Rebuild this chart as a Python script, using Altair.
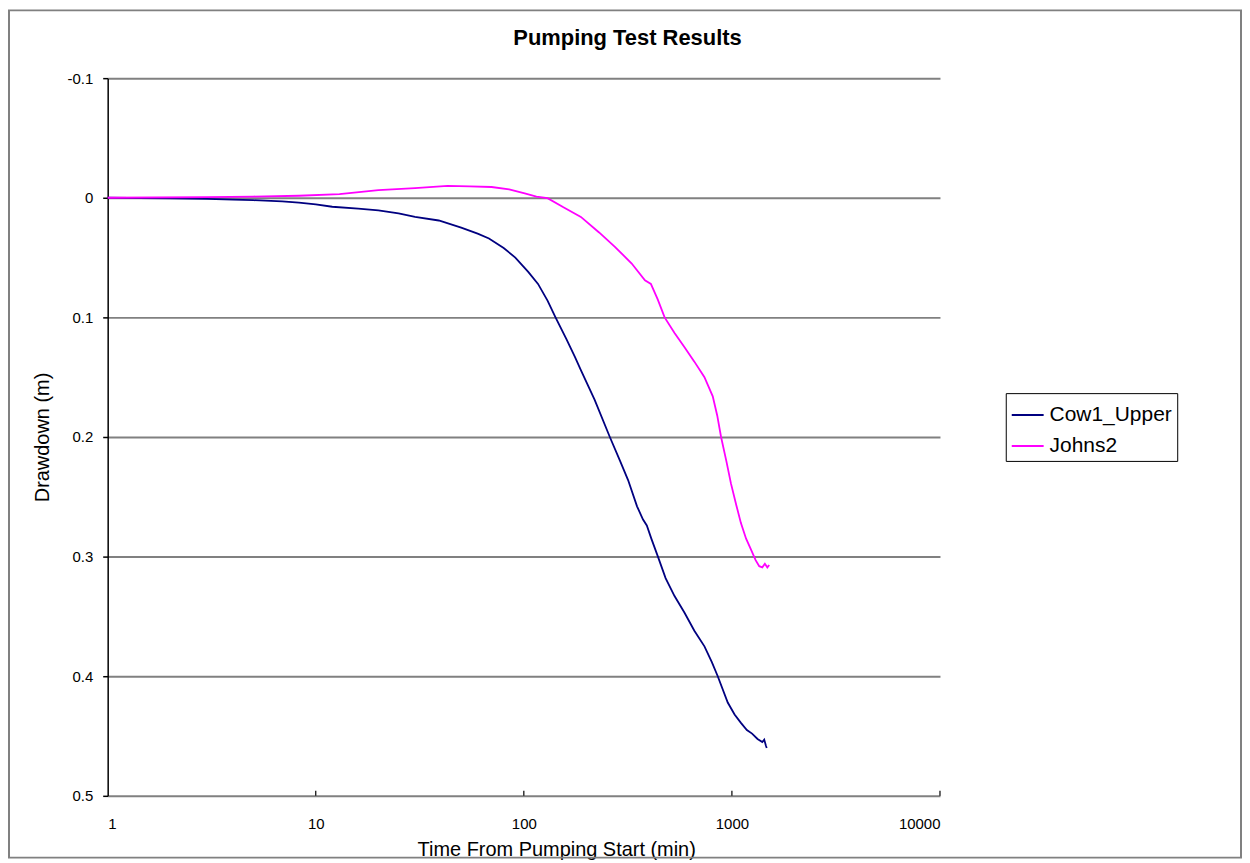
import altair as alt
import pandas as pd

# ---- data ----
series_names = ["Cow1_Upper", "Johns2"]
series_colors = ["#000080", "#ff00ff"]

cow_t = [1, 2, 3, 4, 5, 6.9, 8.3, 10, 12, 16, 20, 25, 30, 39, 50, 60, 68, 80, 91, 105,
         117, 130, 142, 160, 176, 188, 219, 259, 290, 317, 350, 374, 390, 410, 441, 480,
         530, 592, 660, 738, 800, 855, 955, 1030, 1105, 1180, 1250, 1328, 1400, 1430, 1456, 1470]
cow_d = [0.0, 0.0005, 0.001, 0.0015, 0.002, 0.003, 0.004, 0.0055, 0.0075, 0.009, 0.0105, 0.013,
         0.016, 0.019, 0.025, 0.030, 0.034, 0.042, 0.050, 0.062,
         0.072, 0.086, 0.100, 0.118, 0.133, 0.144, 0.169, 0.200, 0.220, 0.236, 0.258, 0.269,
         0.274, 0.285, 0.300, 0.318, 0.333, 0.347, 0.362, 0.375, 0.388, 0.400, 0.422, 0.432,
         0.439, 0.445, 0.448, 0.4525, 0.455, 0.453, 0.458, 0.460]

johns_t = [1, 3, 5, 8.3, 13, 20, 30, 43, 55, 70, 85, 101, 115, 130, 155, 188, 230, 274, 330,
           382, 408, 440, 475, 530, 592, 660, 738, 809, 850, 887, 940, 990, 1050, 1105, 1170,
           1234, 1300, 1353, 1400, 1440, 1480, 1511]
johns_d = [0.0, -0.0005, -0.001, -0.0017, -0.003, -0.0064, -0.008, -0.010, -0.0095, -0.009,
           -0.007, -0.0036, -0.001, 0.0003, 0.008, 0.016, 0.029, 0.041, 0.055,
           0.069, 0.072, 0.085, 0.100, 0.113, 0.125, 0.137, 0.150, 0.166, 0.182, 0.200, 0.220,
           0.239, 0.257, 0.272, 0.285, 0.294, 0.303, 0.308, 0.309, 0.306, 0.309, 0.307]

x_ticks = [1, 10, 100, 1000, 10000]
y_ticks = [-0.1, 0, 0.1, 0.2, 0.3, 0.4, 0.5]

chart_title = "Pumping Test Results"
x_title = "Time From Pumping Start (min)"
y_title = "Drawdown (m)"

FONT = "Liberation Sans"

df = pd.concat([
    pd.DataFrame({"t": cow_t, "d": cow_d, "series": series_names[0]}),
    pd.DataFrame({"t": johns_t, "d": johns_d, "series": series_names[1]}),
], ignore_index=True)

x_scale = alt.Scale(type="log", domain=[1, 10000])
y_scale = alt.Scale(domain=[-0.1, 0.5], reverse=True, nice=False, zero=False)

lines = alt.Chart(df).mark_line(strokeWidth=1.8).encode(
    x=alt.X("t:Q", scale=x_scale, title=x_title,
            axis=alt.Axis(values=x_ticks, format="d", grid=False, domain=False,
                          ticks=False, tickSize=0, labelPadding=21,
                          labelFont=FONT, labelFontSize=15, labelColor="black",
                          titleFont=FONT, titleFontSize=20, titleFontWeight="normal",
                          titleColor="black", titleX=450, titleY=60,
                          titleBaseline="alphabetic", titleAlign="center")),
    y=alt.Y("d:Q", scale=y_scale, title=y_title,
            axis=alt.Axis(values=y_ticks,
                          labelExpr="datum.value == 0 ? '0' : replace(format(datum.value, '.1f'), '\u2212', '-')",
                          grid=True, gridColor="#808080", gridWidth=2,
                          domainColor="black", domainWidth=1.5,
                          tickColor="black", tickSize=5, tickWidth=1.5,
                          labelPadding=10, labelFont=FONT, labelFontSize=15,
                          labelColor="black",
                          titleFont=FONT, titleFontSize=20, titleFontWeight="normal",
                          titleColor="black", titleX=-55, titleY=360, titleAngle=270,
                          titleBaseline="bottom", titleAlign="center")),
    color=alt.Color("series:N",
                    scale=alt.Scale(domain=series_names, range=series_colors),
                    legend=alt.Legend(title=None, orient="none", legendX=901, legendY=316,
                                      labelFont=FONT, labelFontSize=21, labelColor="black",
                                      symbolType="stroke", symbolSize=1024,
                                      symbolStrokeWidth=2, labelOffset=5,
                                      strokeColor="black", fillColor="white",
                                      padding=5, rowPadding=4, cornerRadius=0)),
)

tick_df = pd.DataFrame({"t": x_ticks[1:]})
xticks = alt.Chart(tick_df).mark_rule(color="black", strokeWidth=1.2).encode(
    x=alt.X("t:Q", scale=x_scale),
    y=alt.datum(0.5),
    y2=alt.datum(0.4958),
)

frame = alt.Chart(pd.DataFrame({"k": [0]})).mark_rect(
    fillOpacity=0, stroke="#808080", strokeWidth=2
).encode(
    x=alt.value(-99), x2=alt.value(1137), y=alt.value(-68), y2=alt.value(782)
)

chart = alt.layer(frame, lines, xticks).properties(
    width=835,
    height=720,
    padding={"left": 100, "top": 69, "right": 303, "bottom": 63},
    autosize=alt.AutoSizeParams(type="none"),
    background="white",
    title=alt.Title(chart_title, font=FONT, fontSize=22, fontWeight="bold",
                    color="black", anchor="middle", frame="group", dx=104,
                    offset=-58, baseline="alphabetic"),
).configure_view(stroke="transparent")

chart.save("out.html", embed_options={"renderer": "svg", "actions": False})
